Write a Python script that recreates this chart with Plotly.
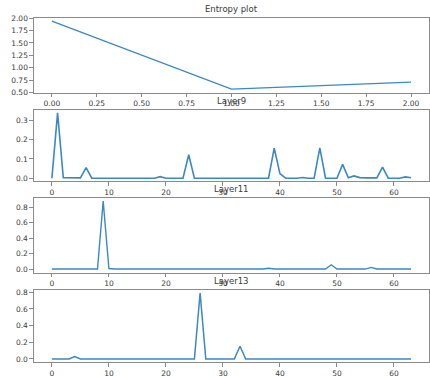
import plotly.graph_objects as go

W, H = 430, 378

# Entropy per step
entropy_x = [0, 1, 2]
entropy_y = [1.94, 0.57, 0.71]

# Attention weights per position (64 positions) for three layers
layer9 = [0.0, 0.34, 0.003, 0.002, 0.002, 0.002, 0.055, 0.0, 0.0, 0.0,
          0.0, 0.0, 0.0, 0.0, 0.0, 0.0, 0.0, 0.0, 0.0, 0.008,
          0.0, 0.0, 0.0, 0.0, 0.122, 0.0, 0.0, 0.0, 0.0, 0.0,
          0.0, 0.0, 0.0, 0.0, 0.0, 0.0, 0.0, 0.0, 0.0, 0.157,
          0.024, 0.0, 0.0, 0.0, 0.004, 0.0, 0.0, 0.158, 0.0, 0.0,
          0.0, 0.072, 0.002, 0.012, 0.003, 0.002, 0.002, 0.002, 0.058, 0.0,
          0.0, 0.0, 0.007, 0.002]
layer11 = [0.003, 0.003, 0.003, 0.003, 0.003, 0.003, 0.003, 0.003, 0.003, 0.88,
           0.01, 0.004, 0.003, 0.003, 0.003, 0.003, 0.003, 0.003, 0.006, 0.003,
           0.003, 0.003, 0.003, 0.003, 0.003, 0.003, 0.003, 0.003, 0.003, 0.003,
           0.003, 0.003, 0.003, 0.003, 0.003, 0.003, 0.003, 0.003, 0.013, 0.003,
           0.003, 0.003, 0.003, 0.003, 0.003, 0.003, 0.003, 0.003, 0.004, 0.058,
           0.004, 0.003, 0.003, 0.003, 0.003, 0.003, 0.025, 0.004, 0.003, 0.003,
           0.003, 0.003, 0.003, 0.003]
layer13 = [0.0, 0.0, 0.0, 0.0, 0.03, 0.0, 0.0, 0.0, 0.0, 0.0,
           0.0, 0.0, 0.0, 0.0, 0.0, 0.0, 0.0, 0.0, 0.0, 0.0,
           0.003, 0.0, 0.0, 0.0, 0.0, 0.0, 0.79, 0.0, 0.0, 0.0,
           0.0, 0.0, 0.0, 0.152, 0.0, 0.0, 0.0, 0.0, 0.0, 0.0,
           0.0, 0.0, 0.0, 0.0, 0.0, 0.0, 0.0, 0.0, 0.008, 0.0,
           0.0, 0.0, 0.0, 0.0, 0.0, 0.0, 0.0, 0.0, 0.0, 0.0,
           0.0, 0.0, 0.0, 0.0]

titles = ["Entropy plot", "Layer9", "Layer11", "Layer13"]
positions = list(range(len(layer9)))

LINE = "#3a88c6"
SPINE = "#8a8a8a"
TXT = "#3a3a3a"
FONT = "DejaVu Sans"

# pixel boxes (top, bottom) for each panel
boxes = [(14, 91), (108.5, 182.3), (199, 276), (293.5, 368)]
x_left, x_right = 34, 430
widths = [1.3, 1.6, 1.4, 1.5]

def ydom(top, bot):
    return [(H - bot) / H, (H - top) / H]

fig = go.Figure()
series = [(entropy_x, entropy_y), (positions, layer9), (positions, layer11), (positions, layer13)]
for i, (xs, ys) in enumerate(series):
    sfx = "" if i == 0 else str(i + 1)
    fig.add_trace(go.Scatter(x=xs, y=ys, mode="lines",
                             line=dict(color=LINE, width=widths[i]),
                             xaxis="x" + sfx, yaxis="y" + sfx,
                             showlegend=False, hoverinfo="skip"))

common = dict(showline=True, linecolor=SPINE, linewidth=1, mirror=True,
              showgrid=False, zeroline=False, ticks="outside", ticklen=3.5,
              tickcolor=SPINE, tickwidth=1,
              tickfont=dict(family=FONT, size=7.5, color=TXT), fixedrange=True)

layout = dict(width=W, height=H, margin=dict(l=0, r=0, t=0, b=0),
              paper_bgcolor="white", plot_bgcolor="white",
              font=dict(family=FONT, color=TXT))

xranges = [[-0.1, 2.1], [-3.15, 66.15], [-3.15, 66.15], [-3.15, 66.15]]
yranges = [[0.50, 2.01], [-0.017, 0.357], [-0.044, 0.924], [-0.0395, 0.8295]]
xticks = [dict(tickvals=[0, 0.25, 0.5, 0.75, 1.0, 1.25, 1.5, 1.75, 2.0], tickformat=".2f")] + \
         [dict(tickvals=[0, 10, 20, 30, 40, 50, 60])] * 3
yticks = [dict(tickvals=[0.5, 0.75, 1.0, 1.25, 1.5, 1.75, 2.0], tickformat=".2f"),
          dict(tickvals=[0.0, 0.1, 0.2, 0.3], tickformat=".1f"),
          dict(tickvals=[0.0, 0.2, 0.4, 0.6, 0.8], tickformat=".1f"),
          dict(tickvals=[0.0, 0.2, 0.4, 0.6, 0.8], tickformat=".1f")]

annotations = []
for i, (top, bot) in enumerate(boxes):
    sfx = "" if i == 0 else str(i + 1)
    layout["xaxis" + sfx] = dict(common, domain=[x_left / W, x_right / W],
                                 range=xranges[i], anchor="y" + sfx, **xticks[i])
    layout["yaxis" + sfx] = dict(common, domain=ydom(top, bot),
                                 range=yranges[i], anchor="x" + sfx, **yticks[i])
    annotations.append(dict(text=titles[i], xref="paper", yref="paper",
                            x=(x_left + x_right) / 2 / W, y=(H - top) / H + 1.5 / H,
                            xanchor="center", yanchor="bottom", showarrow=False,
                            font=dict(family=FONT, size=8.5, color=TXT)))
layout["annotations"] = annotations
fig.update_layout(**layout)

fig.write_html("out.html")
